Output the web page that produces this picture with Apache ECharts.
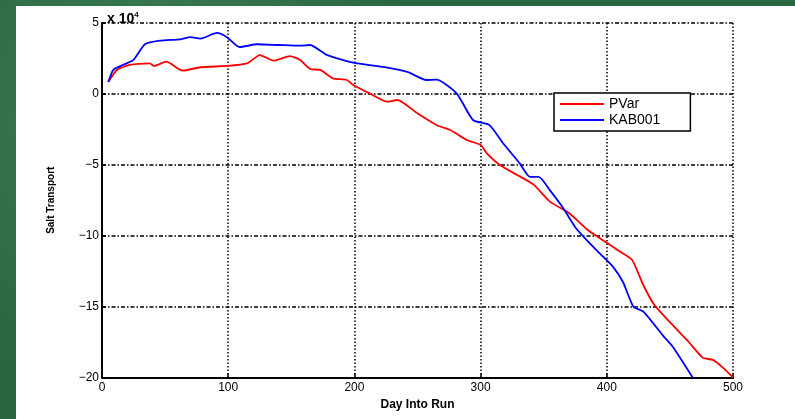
<!DOCTYPE html>
<html>
<head>
<meta charset="utf-8">
<script src="https://cdn.jsdelivr.net/npm/echarts@6/dist/echarts.min.js"></script>
<style>
  html, body {
    margin: 0;
    width: 795px;
    height: 419px;
    overflow: hidden;
    background: #2a6641;
    background-image: radial-gradient(circle at 20% 30%, #3f7f55 0, transparent 40%),
      radial-gradient(circle at 70% 80%, #1c4f30 0, transparent 45%);
  }
  #chart {
    position: absolute;
    left: 16px;
    top: 6px;
    width: 779px;
    height: 413px;
    background: #ffffff;
  }
</style>
</head>
<body>
<div id="chart"></div>
<script>
// PVar curve
const pvarDays = [5, 12, 22, 38, 41, 51, 64, 78, 99, 115, 125, 136, 149, 157, 165, 173, 183, 194, 199, 212,
  226, 234, 250, 265, 276, 289, 300, 305, 315, 329, 342, 355, 370, 385, 400, 410, 420, 428, 437, 450,
  464, 476, 484, 492, 500]
const pvarValues = [0.84, 1.7, 2.04, 2.15, 1.97, 2.27, 1.64, 1.88, 1.97, 2.15, 2.74, 2.34, 2.67, 2.39, 1.76, 1.69, 1.1, 0.98, 0.63, 0.04,
  -0.55, -0.43, -1.37, -2.19, -2.55, -3.25, -3.6, -4.2, -5.0, -5.72, -6.4, -7.6, -8.4, -9.6, -10.5, -11.1, -11.7, -13.3, -14.8, -16.1,
  -17.4, -18.6, -18.76, -19.3, -20]

// KAB001 curve
const kabDays = [5, 9, 18, 25, 34, 46, 62, 70, 78, 91, 99, 109, 123, 140, 157, 165, 178, 199, 223, 242,
  257, 265, 281, 294, 307, 318, 331, 339, 346, 355, 365, 375, 385, 395, 405, 413, 421, 429, 445, 452, 468]
const kabValues = [0.84, 1.7, 2.1, 2.4, 3.5, 3.75, 3.85, 4.0, 3.9, 4.3, 4.0, 3.3, 3.5, 3.45, 3.4, 3.45, 2.75, 2.2, 1.9, 1.55,
  0.98, 1.0, 0.04, -1.84, -2.2, -3.5, -4.9, -5.85, -5.85, -6.8, -8.0, -9.4, -10.4, -11.3, -12.2, -13.3, -15.0, -15.36, -17.1, -17.8, -20]

const xTicks = [0, 100, 200, 300, 400, 500]
const yTicks = [-20, -15, -10, -5, 0, 5]

function pairs(xs, ys) {
  return xs.map((x, i) => [x, ys[i]])
}

let myChart = echarts.init(document.getElementById('chart'))
myChart.setOption({
  animation: false,
  textStyle: { fontFamily: 'Liberation Sans, Arial, sans-serif' },
  title: {
    text: '{a|x 10}{b|4}',
    left: 86,
    top: 0,
    textStyle: {
      rich: {
        a: { fontSize: 14, color: '#000' },
        b: { fontSize: 8, color: '#000', verticalAlign: 'top', padding: [0, 0, 9, 0] }
      }
    }
  },
  grid: {
    left: 86,
    right: 62,
    top: 17,
    bottom: 41.5
  },
  legend: {
    data: ['PVar', 'KAB001'],
    orient: 'vertical',
    left: 538,
    top: 87,
    padding: [4, 30, 4, 6],
    icon: 'rect',
    itemWidth: 44,
    itemHeight: 2,
    itemGap: 2,
    borderColor: '#000',
    borderWidth: 1.5,
    backgroundColor: '#fff',
    textStyle: { fontSize: 14, color: '#000' }
  },
  xAxis: {
    type: 'value',
    min: xTicks[0],
    max: xTicks[xTicks.length - 1],
    interval: 100,
    name: 'Day Into Run',
    nameLocation: 'middle',
    nameGap: 21,
    nameTextStyle: { fontSize: 12, fontWeight: 'bold', color: '#000' },
    axisLine: { onZero: false, lineStyle: { color: '#000', width: 2 } },
    axisTick: { inside: true, length: 4, lineStyle: { color: '#000', width: 1.5 } },
    axisLabel: { fontSize: 12, color: '#000', margin: 4 },
    splitLine: {
      show: true,
      lineStyle: { color: '#000', width: 1.5, type: [1.5, 2] }
    }
  },
  yAxis: {
    type: 'value',
    min: yTicks[0],
    max: yTicks[yTicks.length - 1],
    interval: 5,
    name: 'Salt Transport',
    nameLocation: 'middle',
    nameGap: 46,
    nameTextStyle: { fontSize: 10, fontWeight: 'bold', color: '#000' },
    axisLine: { show: true, onZero: false, lineStyle: { color: '#000', width: 2 } },
    axisTick: { show: true, inside: true, length: 4, lineStyle: { color: '#000', width: 1.5 } },
    axisLabel: {
      fontSize: 12,
      color: '#000',
      margin: 3,
      formatter: v => (v < 0 ? '\u2212' + Math.abs(v) : String(v))
    },
    splitLine: {
      show: true,
      lineStyle: { color: '#000', width: 1.5, type: [4, 2, 1.5, 2] }
    }
  },
  series: [
    {
      name: 'PVar',
      type: 'line',
      color: '#ff0000',
      symbol: 'none',
      smooth: 0.2,
      lineStyle: { width: 1.8 },
      data: pairs(pvarDays, pvarValues)
    },
    {
      name: 'KAB001',
      type: 'line',
      color: '#0000ff',
      symbol: 'none',
      smooth: 0.2,
      lineStyle: { width: 1.8 },
      data: pairs(kabDays, kabValues)
    }
  ]
})
</script>
</body>
</html>
